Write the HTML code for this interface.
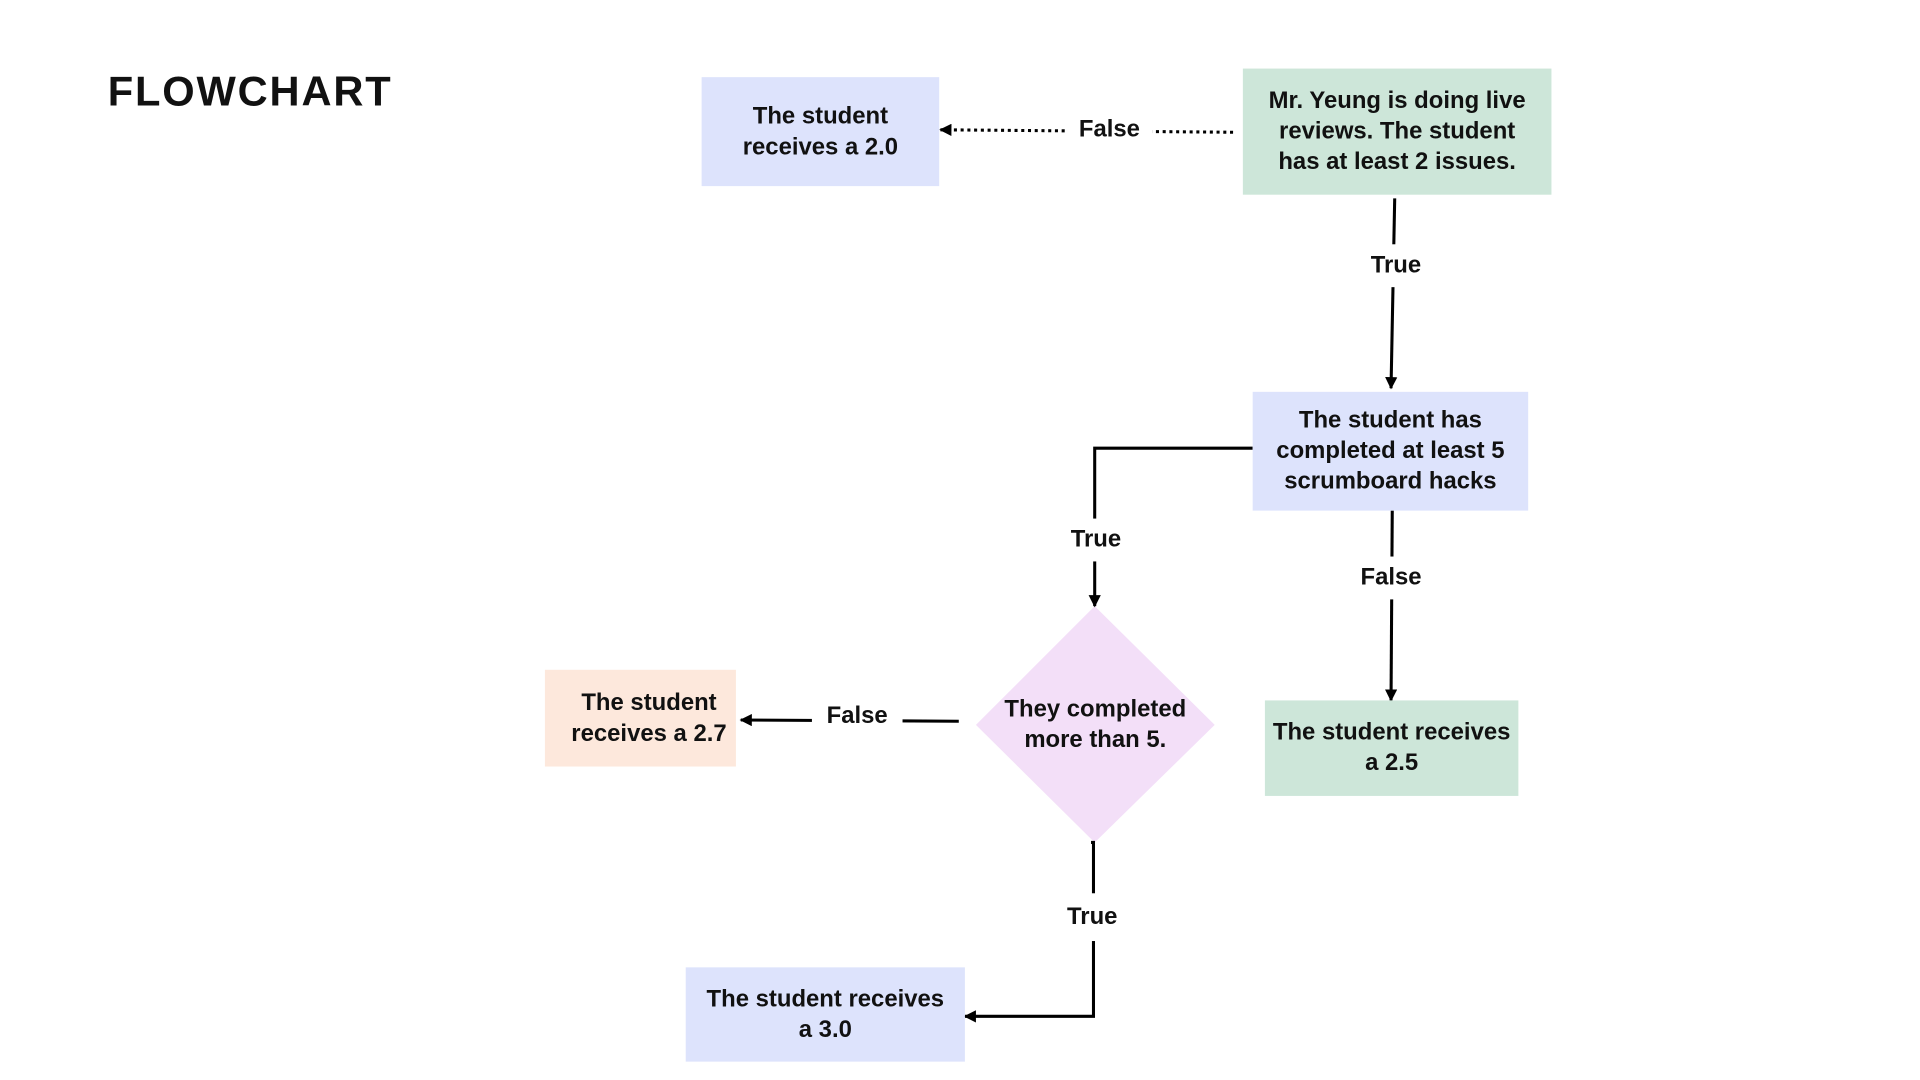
<!DOCTYPE html>
<html><head><meta charset="utf-8"><style>
html,body{margin:0;padding:0;background:#fff;width:1920px;height:1080px;overflow:hidden}
#w{position:absolute;left:0;top:0;width:1568px;height:882px;transform:scale(1.2245);transform-origin:0 0;font-family:"Liberation Sans",sans-serif;font-weight:bold;color:#111}
.b{position:absolute;display:flex;align-items:center;justify-content:center;text-align:center;font-size:19.5px;line-height:25px}
.l{position:absolute;font-size:19.5px;background:#fff;transform:translate(-50%,-50%);padding:0 2px}
svg{position:absolute;left:0;top:0}
</style></head><body><div id="w">
<div style="position:absolute;left:88px;top:56px;font-size:34px;letter-spacing:1.5px">FLOWCHART</div>
<svg width="1568" height="882">
<defs><marker id="a" markerWidth="10" markerHeight="10" refX="9" refY="5" orient="auto" markerUnits="userSpaceOnUse"><path d="M0,0 L10,5 L0,10z" fill="#000"/></marker></defs>
<polygon points="894,495 992,592 894,688 797,592" fill="#f3dff8"/>
<g stroke="#000" stroke-width="2.5" fill="none">
<line x1="1007" y1="108" x2="768" y2="106" stroke-dasharray="2.5 3" marker-end="url(#a)"/>
<line x1="1139" y1="162" x2="1136" y2="317" marker-end="url(#a)"/>
<polyline points="1023,366 894,366 894,495" marker-end="url(#a)"/>
<line x1="1137" y1="417" x2="1136" y2="572" marker-end="url(#a)"/>
<line x1="783" y1="589" x2="605" y2="588" marker-end="url(#a)"/>
<polyline points="891,688 893,688 893,830 788,830" marker-end="url(#a)"/>
</g></svg>
<div class="b" style="left:573px;top:63px;width:194px;height:89px;background:#dde3fc">The student<br>receives a 2.0</div>
<div class="b" style="left:1015px;top:56px;width:252px;height:103px;background:#cde6d9">Mr. Yeung is doing live<br>reviews. The student<br>has at least 2 issues.</div>
<div class="b" style="left:1023px;top:320px;width:225px;height:97px;background:#dde3fc">The student has<br>completed at least 5<br>scrumboard hacks</div>
<div class="b" style="left:1033px;top:572px;width:207px;height:78px;background:#cde6d9">The student receives<br>a 2.5</div>
<div class="b" style="left:445px;top:547px;width:156px;height:79px;background:#fde8dc;padding-left:14px;box-sizing:border-box">The student<br>receives a 2.7</div>
<div class="b" style="left:560px;top:790px;width:228px;height:77px;background:#dde3fc">The student receives<br>a 3.0</div>
<div class="b" style="left:797px;top:560px;width:195px;height:64px">They completed<br>more than 5.</div>
<div class="l" style="left:906px;top:106px;padding:0 10px">False</div>
<div class="l" style="left:1140px;top:217px;padding:6px 4px">True</div>
<div class="l" style="left:895px;top:441px;padding:6px 4px">True</div>
<div class="l" style="left:1136px;top:472px;padding:6px 4px">False</div>
<div class="l" style="left:700px;top:585px;padding:0 12px">False</div>
<div class="l" style="left:892px;top:749px;padding:8px 4px">True</div>
</div></body></html>
